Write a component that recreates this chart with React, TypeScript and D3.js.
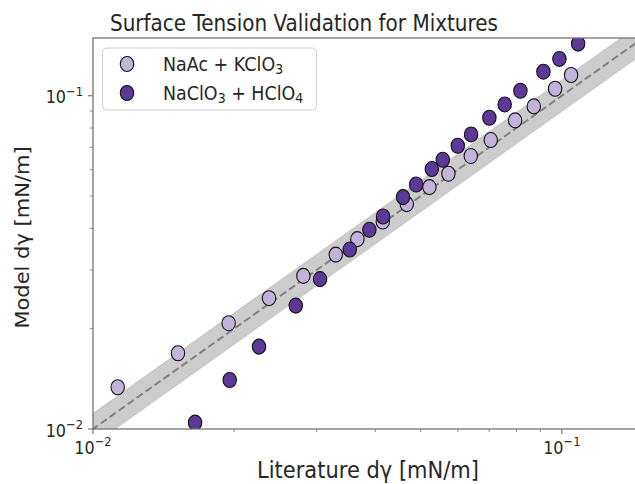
import React from "react";
import * as d3 from "d3";

const litNaAcKClO3 = [0.01129, 0.01518, 0.01947, 0.02374, 0.0281, 0.03295, 0.03664, 0.04151, 0.0467, 0.05219, 0.05729, 0.06395, 0.07054, 0.0795, 0.08715, 0.09676, 0.10467];
const modelNaAcKClO3 = [0.01334, 0.01688, 0.02077, 0.02469, 0.0288, 0.03337, 0.03712, 0.04194, 0.04729, 0.05318, 0.05833, 0.06592, 0.07362, 0.08431, 0.09288, 0.10496, 0.11538];
const litNaClO3HClO4 = [0.01651, 0.01957, 0.0226, 0.02707, 0.0305, 0.03529, 0.03886, 0.04157, 0.04585, 0.0489, 0.05281, 0.05573, 0.05999, 0.06405, 0.07006, 0.07554, 0.0816, 0.09136, 0.09883, 0.10834];
const modelNaClO3HClO4 = [0.01045, 0.01403, 0.01767, 0.02346, 0.02816, 0.03455, 0.0396, 0.0434, 0.04964, 0.05415, 0.06025, 0.06426, 0.07077, 0.07653, 0.0859, 0.09416, 0.10352, 0.11806, 0.12894, 0.1433];
const majorTicks = [0.01, 0.1];
const minorTicks = [0.02, 0.03, 0.04, 0.05, 0.06, 0.07, 0.08, 0.09];
const tickExponents = ["−2", "−1"];
const domainLimits = [0.01, 0.149];
const bandFactor = 1.115;

const W = 635, H = 484;
const L = 93, R = 643, T = 38, B = 429;
const SY = 1.13;
const FONT = "DejaVu Sans, sans-serif";
const LIGHT = "#c3b3da";
const DARK = "#5c3898";
const TEXT = "#262626";
const SPINE = "#6e6e6e";
const MRX = 6.7;
const MRY = 7.5;

function Txt(props: { x: number; y: number; size: number; anchor?: string; rotate?: number; children: React.ReactNode }) {
  const rot = props.rotate ? ` rotate(${props.rotate})` : "";
  return (
    <text
      transform={`translate(${props.x},${props.y}) scale(1,${SY})${rot}`}
      textAnchor={props.anchor || "start"}
      fontSize={props.size}
      fill={TEXT}
    >
      {props.children}
    </text>
  );
}

export default function App() {
  const x = d3.scaleLog().domain(domainLimits).range([L, R]);
  const y = d3.scaleLog().domain(domainLimits).range([B, T]);
  const area = d3
    .area<number>()
    .x((d) => x(d))
    .y0((d) => y(d / bandFactor))
    .y1((d) => y(d * bandFactor));
  const line = d3
    .line<number>()
    .x((d) => x(d))
    .y((d) => y(d));
  const bandPts = [domainLimits[0] / 1.2, domainLimits[1] * 1.2];

  const light = litNaAcKClO3.map((v, i) => [v, modelNaAcKClO3[i]]);
  const dark = litNaClO3HClO4.map((v, i) => [v, modelNaClO3HClO4[i]]);

  return (
    <svg width={W} height={H} style={{ position: "absolute", left: 0, top: 0, fontFamily: FONT }}>
      <rect width={W} height={H} fill="white" />
      <defs>
        <clipPath id="plot">
          <rect x={L} y={T} width={R - L} height={B - T} />
        </clipPath>
      </defs>
      <g clipPath="url(#plot)">
        <path d={area(bandPts) || ""} fill="#808080" fillOpacity={0.4} stroke="#808080" strokeOpacity={0.25} strokeWidth={1} />
        <path d={line(bandPts) || ""} fill="none" stroke="#808080" strokeWidth={2} strokeDasharray="7.5,3.5" />
        {light.map((p, i) => (
          <ellipse key={"l" + i} cx={x(p[0])} cy={y(p[1])} rx={MRX} ry={MRY} fill={LIGHT} stroke="#111" strokeWidth={1.1} />
        ))}
        {dark.map((p, i) => (
          <ellipse key={"d" + i} cx={x(p[0])} cy={y(p[1])} rx={MRX} ry={MRY} fill={DARK} stroke="#111" strokeWidth={1.1} />
        ))}
      </g>
      <rect x={L} y={T} width={R - L} height={B - T} fill="none" stroke={SPINE} strokeWidth={1.25} />
      {majorTicks.map((t, i) => (
        <g key={"xt" + i}>
          <line x1={x(t)} x2={x(t)} y1={B} y2={B + 5} stroke={SPINE} strokeWidth={1.1} />
          <Txt x={x(t)} y={B + 24.5} size={16} anchor="middle">
            10<tspan fontSize={11.5} dy={-6.5}>{tickExponents[i]}</tspan>
          </Txt>
        </g>
      ))}
      {minorTicks.map((t, i) => (
        <line key={"xm" + i} x1={x(t)} x2={x(t)} y1={B} y2={B + 3} stroke={SPINE} strokeWidth={0.8} />
      ))}
      {majorTicks.map((t, i) => (
        <g key={"yt" + i}>
          <line x1={L - 5} x2={L} y1={y(t)} y2={y(t)} stroke={SPINE} strokeWidth={1.1} />
          <Txt x={L - 10} y={y(t) + 7.5} size={16} anchor="end">
            10<tspan fontSize={11.5} dy={-6.5}>{tickExponents[i]}</tspan>
          </Txt>
        </g>
      ))}
      {minorTicks.map((t, i) => (
        <line key={"ym" + i} x1={L - 3} x2={L} y1={y(t)} y2={y(t)} stroke={SPINE} strokeWidth={0.8} />
      ))}
      <Txt x={304} y={31} size={20} anchor="middle">
        Surface Tension Validation for Mixtures
      </Txt>
      <Txt x={368} y={478} size={21} anchor="middle">
        Literature dγ [mN/m]
      </Txt>
      <Txt x={29} y={(T + B) / 2 + 4} size={18.6} anchor="middle" rotate={-90}>
        Model dγ [mN/m]
      </Txt>
      <g>
        <rect x={102.5} y={48} width={214} height={62} rx={4} fill="white" fillOpacity={0.85} stroke="#d0d0d0" strokeWidth={1} />
        <ellipse cx={127} cy={64} rx={MRX} ry={MRY} fill={LIGHT} stroke="#111" strokeWidth={1.1} />
        <ellipse cx={127} cy={93} rx={MRX} ry={MRY} fill={DARK} stroke="#111" strokeWidth={1.1} />
        <Txt x={163} y={70.5} size={17.5}>
          NaAc + KClO<tspan fontSize={12.5} dy={3.5}>3</tspan>
        </Txt>
        <Txt x={163} y={99.5} size={17.5}>
          NaClO<tspan fontSize={12.5} dy={3.5}>3</tspan>
          <tspan dy={-3.5}> + HClO</tspan>
          <tspan fontSize={12.5} dy={3.5}>4</tspan>
        </Txt>
      </g>
    </svg>
  );
}
